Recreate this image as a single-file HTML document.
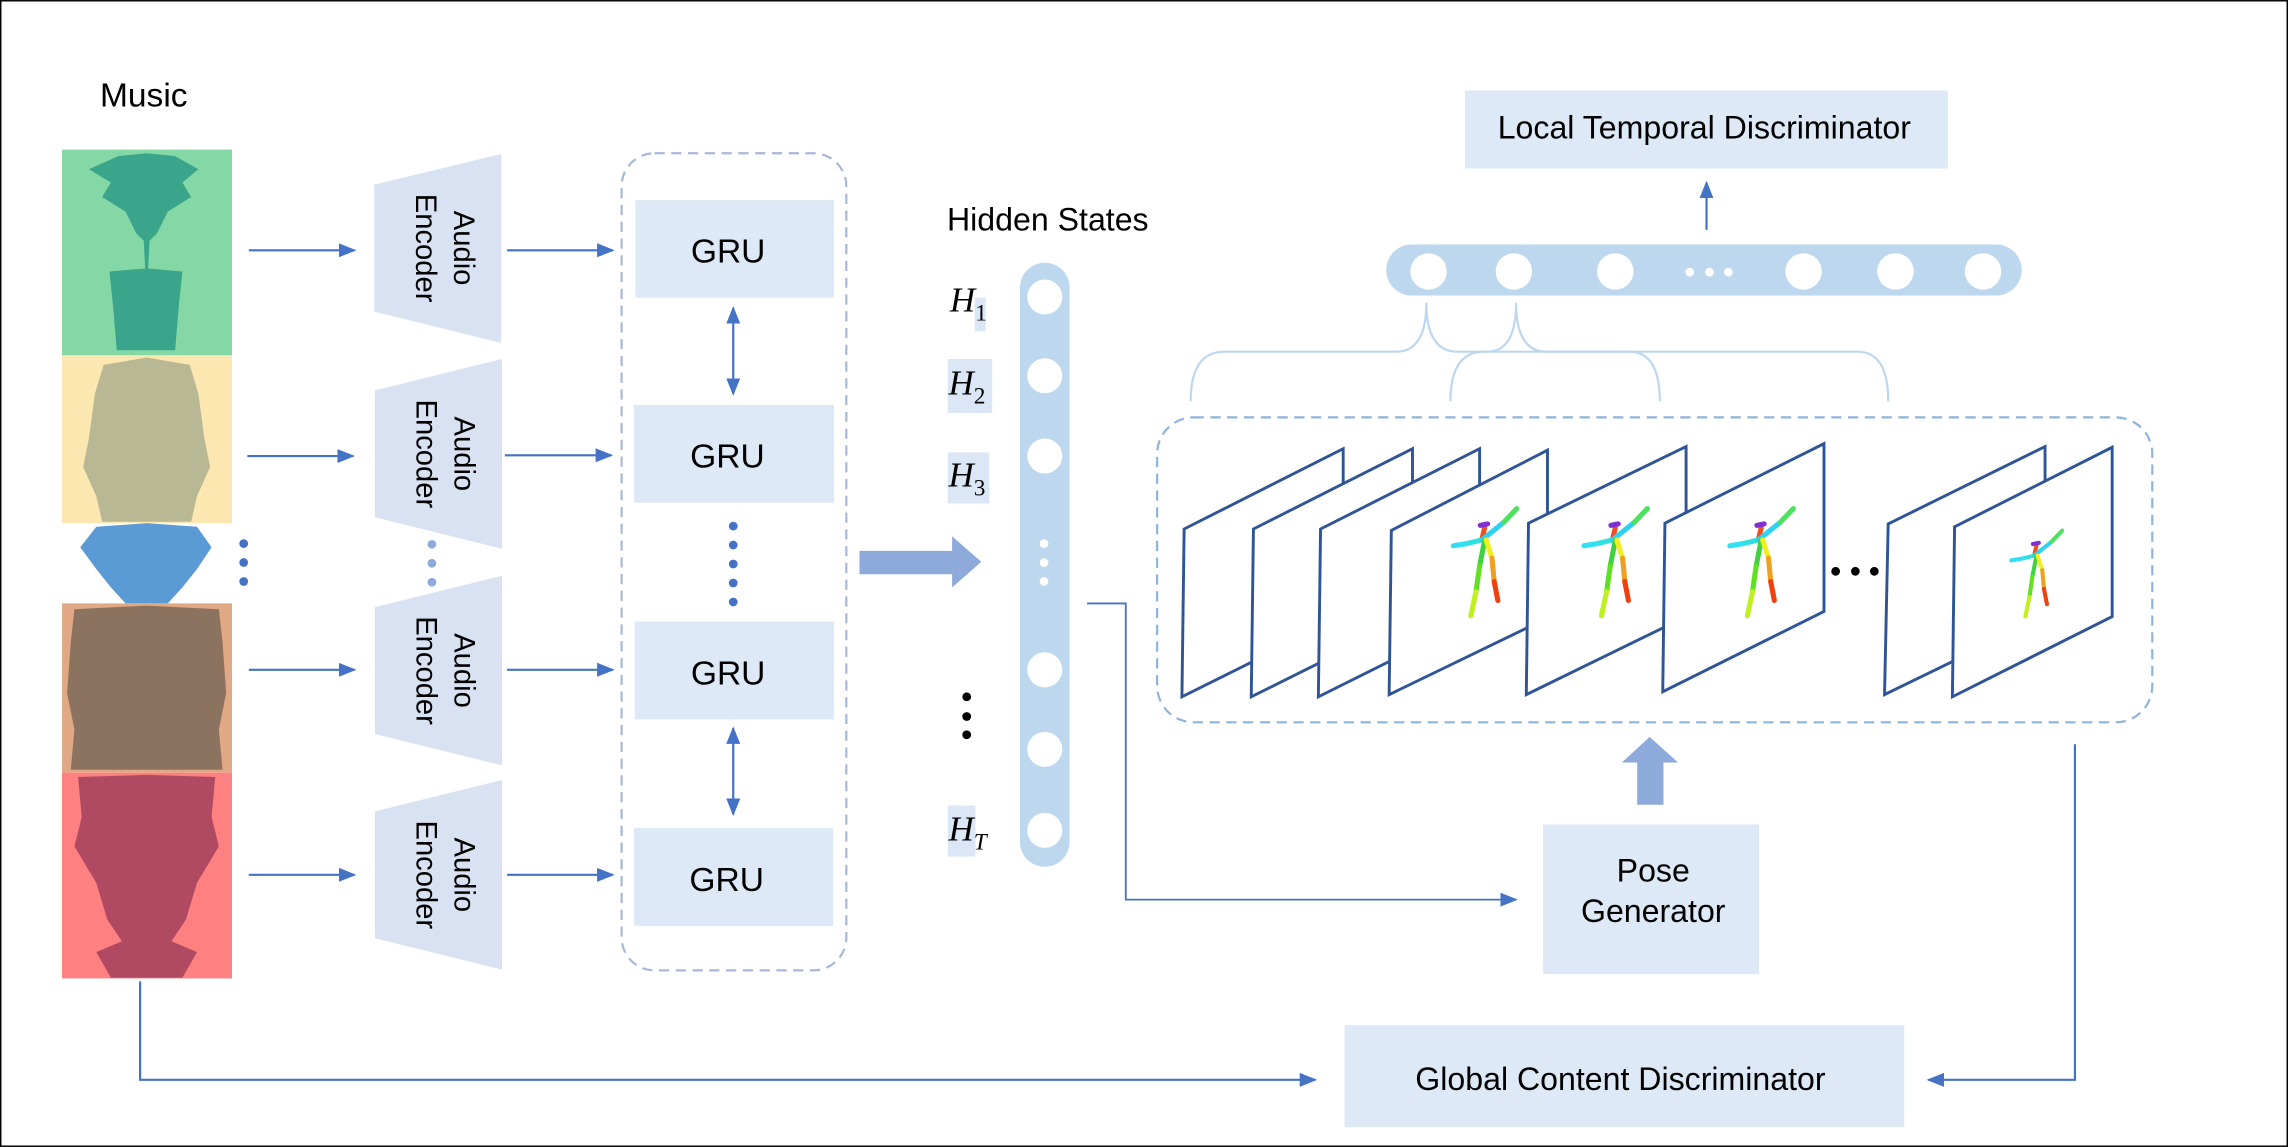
<!DOCTYPE html>
<html><head><meta charset="utf-8"><style>
html,body{margin:0;padding:0;background:#fff;}
svg{display:block;}
text{font-family:"Liberation Sans","DejaVu Sans",sans-serif;}
text.m, text.m tspan{font-family:"Liberation Serif","DejaVu Serif",serif;}
</style></head><body>
<svg width="2288" height="1147" viewBox="0 0 3136 1572" xmlns="http://www.w3.org/2000/svg">
<defs>
<marker id="ah2" viewBox="0 0 10 10" refX="9" refY="5" markerWidth="24" markerHeight="24" orient="auto-start-reverse" markerUnits="userSpaceOnUse">
<path d="M0,1 L10,5 L0,9 z" fill="#4472c4"/></marker>
<g id="fig">
<g stroke-width="7" stroke-linecap="round" fill="none">
<line x1="0" y1="0" x2="4" y2="-17" stroke="#f05020"/>
<line x1="-2" y1="-20" x2="8" y2="-22" stroke="#8030d0"/>
<line x1="0" y1="0" x2="-21" y2="5" stroke="#30e0e0"/>
<line x1="-21" y1="5" x2="-39" y2="8" stroke="#30e0f0"/>
<line x1="0" y1="0" x2="30" y2="-24" stroke="#30d0f0"/>
<line x1="30" y1="-24" x2="48" y2="-43" stroke="#50e060"/>
<line x1="4" y1="0" x2="-3" y2="36" stroke="#40d040"/>
<line x1="-3" y1="36" x2="-8" y2="71" stroke="#60e020"/>
<line x1="-8" y1="71" x2="-15" y2="104" stroke="#c0f020"/>
<line x1="6" y1="0" x2="14" y2="25" stroke="#f0f020"/>
<line x1="14" y1="25" x2="17" y2="57" stroke="#f0a020"/>
<line x1="17" y1="57" x2="22" y2="83" stroke="#f04010"/>
</g></g>
</defs>
<rect x="1" y="1" width="3134" height="1570" fill="#fff" stroke="#000" stroke-width="2"/>

<text x="137" y="146" font-size="46">Music</text>
<rect x="85" y="205" width="233" height="282" fill="#84d8a6"/>
<polygon points="201,210 240,214 272,232 250,250 262,270 230,290 215,320 205,330 203,368 250,372 245,420 240,480 160,480 155,420 150,372 199,368 197,330 187,320 172,290 140,270 152,250 122,232 162,214" fill="#3aa58a"/>
<rect x="85" y="487" width="233" height="230" fill="#fde7b0"/>
<polygon points="201,490 260,500 272,540 280,600 288,640 270,680 262,715 140,715 132,680 114,640 122,600 130,540 142,500" fill="#b8b894"/>
<polygon points="201,717 270,722 290,750 270,780 250,805 230,827 172,827 152,805 132,780 110,750 132,722" fill="#5b9bd5"/>
<rect x="85" y="827" width="233" height="232" fill="#e0a884"/>
<polygon points="201,830 300,835 305,880 310,950 300,1000 305,1055 97,1055 102,1000 92,950 97,880 102,835" fill="#8b7360"/>
<rect x="85" y="1059" width="233" height="282" fill="#ff8080"/>
<polygon points="201,1062 295,1065 290,1120 300,1160 270,1210 255,1260 235,1290 270,1305 250,1340 152,1340 132,1305 167,1290 147,1260 132,1210 102,1160 112,1120 107,1065" fill="#b04a62"/>
<circle cx="334" cy="745" r="6" fill="#4472c4"/><circle cx="334" cy="771" r="6" fill="#4472c4"/><circle cx="334" cy="797" r="6" fill="#4472c4"/>

<g stroke="#4472c4" stroke-width="3" fill="none" marker-end="url(#ah2)">
<line x1="341" y1="343" x2="486" y2="343"/>
<line x1="339" y1="625" x2="484" y2="625"/>
<line x1="341" y1="918" x2="486" y2="918"/>
<line x1="341" y1="1199" x2="486" y2="1199"/>
<line x1="695" y1="343" x2="840" y2="343"/>
<line x1="692" y1="624" x2="838" y2="624"/>
<line x1="695" y1="918" x2="840" y2="918"/>
<line x1="695" y1="1199" x2="840" y2="1199"/>
</g>
<g fill="#d9e2f3">
<polygon points="513,253 687,211 687,470 513,427"/>
<polygon points="514,535 688,492 688,752 514,709"/>
<polygon points="514,832 688,789 688,1049 514,1006"/>
<polygon points="514,1112 688,1069 688,1329 514,1286"/>
</g>
<g font-size="40" fill="#000" text-anchor="middle">
<text transform="translate(600,340) rotate(90)"><tspan x="0" y="-22">Audio</tspan><tspan x="0" y="30">Encoder</tspan></text>
<text transform="translate(601,622) rotate(90)"><tspan x="0" y="-22">Audio</tspan><tspan x="0" y="30">Encoder</tspan></text>
<text transform="translate(601,919) rotate(90)"><tspan x="0" y="-22">Audio</tspan><tspan x="0" y="30">Encoder</tspan></text>
<text transform="translate(601,1199) rotate(90)"><tspan x="0" y="-22">Audio</tspan><tspan x="0" y="30">Encoder</tspan></text>
</g>
<circle cx="592" cy="746" r="6" fill="#8eaadb"/><circle cx="592" cy="772" r="6" fill="#8eaadb"/><circle cx="592" cy="798" r="6" fill="#8eaadb"/>

<rect x="852" y="210" width="308" height="1120" rx="45" fill="none" stroke="#a8b8d8" stroke-width="3" stroke-dasharray="14,9"/>
<g fill="#dde9f6">
<rect x="871" y="274" width="272" height="134"/>
<rect x="869" y="555" width="274" height="134"/>
<rect x="870" y="852" width="273" height="134"/>
<rect x="869" y="1135" width="273" height="134"/>
</g>
<g font-size="46" text-anchor="middle" fill="#000">
<text x="998" y="360">GRU</text><text x="997" y="641">GRU</text><text x="998" y="938">GRU</text><text x="996" y="1221">GRU</text>
</g>
<g stroke="#4472c4" stroke-width="3" marker-start="url(#ah2)" marker-end="url(#ah2)">
<line x1="1005" y1="422" x2="1005" y2="540"/>
<line x1="1005" y1="998" x2="1005" y2="1116"/>
</g>
<g fill="#4472c4"><circle cx="1005" cy="721" r="6"/><circle cx="1005" cy="747" r="6"/><circle cx="1005" cy="773" r="6"/><circle cx="1005" cy="799" r="6"/><circle cx="1005" cy="825" r="6"/></g>

<polygon points="1178,755 1305,755 1305,735 1345,770 1305,805 1305,787 1178,787" fill="#8eaadb"/>

<text x="1298" y="316" font-size="44">Hidden States</text>
<rect x="1398" y="360" width="68" height="828" rx="34" fill="#bdd7ee"/>
<g fill="#fff">
<circle cx="1432" cy="407" r="24"/><circle cx="1432" cy="515" r="24"/><circle cx="1432" cy="625" r="24"/>
<circle cx="1432" cy="918" r="24"/><circle cx="1432" cy="1027" r="24"/><circle cx="1432" cy="1138" r="24"/>
<circle cx="1431" cy="745" r="6"/><circle cx="1431" cy="771" r="6"/><circle cx="1431" cy="797" r="6"/>
</g>
<g fill="#dbe7f7">
<rect x="1336" y="408" width="15" height="46"/>
<rect x="1299" y="492" width="61" height="74"/>
<rect x="1299" y="620" width="57" height="70"/>
<rect x="1299" y="1104" width="38" height="70"/>
</g>
<g font-size="48" fill="#000">
<text class="m" x="1302" y="427"><tspan font-style="italic">H</tspan><tspan font-size="32" dy="12">1</tspan></text>
<text class="m" x="1300" y="541"><tspan font-style="italic">H</tspan><tspan font-size="32" dy="12">2</tspan></text>
<text class="m" x="1300" y="667"><tspan font-style="italic">H</tspan><tspan font-size="32" dy="12">3</tspan></text>
<text class="m" x="1300" y="1152"><tspan font-style="italic">H</tspan><tspan font-size="32" font-style="italic" dy="12">T</tspan></text>
</g>
<g fill="#000"><circle cx="1325" cy="955" r="6"/><circle cx="1325" cy="982" r="6"/><circle cx="1325" cy="1007" r="6"/></g>

<polyline points="1490,827 1543,827 1543,1233 2078,1233" fill="none" stroke="#4472c4" stroke-width="2.5" marker-end="url(#ah2)"/>
<polyline points="192,1345 192,1480 1803,1480" fill="none" stroke="#4472c4" stroke-width="3" marker-end="url(#ah2)"/>
<polyline points="2844,1020 2844,1480 2643,1480" fill="none" stroke="#4472c4" stroke-width="3" marker-end="url(#ah2)"/>

<g transform="translate(1568,0)">
<rect x="440" y="124" width="662" height="107" fill="#dde9f6"/>
<text x="768" y="190" font-size="44" text-anchor="middle">Local Temporal Discriminator</text>
<line x1="771" y1="315" x2="771" y2="250" stroke="#4472c4" stroke-width="3" marker-end="url(#ah2)"/>
<rect x="332" y="335" width="871" height="70" rx="35" fill="#bdd7ee"/>
<g fill="#fff">
<circle cx="390" cy="372" r="25"/><circle cx="507" cy="372" r="25"/><circle cx="646" cy="372" r="25"/>
<circle cx="904" cy="372" r="25"/><circle cx="1030" cy="372" r="25"/><circle cx="1150" cy="372" r="25"/>
<circle cx="748" cy="373" r="6"/><circle cx="775" cy="373" r="6"/><circle cx="801" cy="373" r="6"/>
</g>
<g fill="none" stroke="#bdd7ee" stroke-width="3">
<path d="M64,550 Q64,482 110,482 L345,482 Q387,482 387,415 Q387,482 430,482 L665,482 Q707,482 707,550"/>
<path d="M420,550 Q420,482 466,482 L470,482 Q510,482 510,415 Q510,482 552,482 L978,482 Q1020,482 1020,550"/>
</g>
<rect x="18" y="572" width="1364" height="418" rx="50" fill="none" stroke="#8eb4dc" stroke-width="3" stroke-dasharray="14,9"/>
<g fill="#fff" stroke="#2f5597" stroke-width="4">
<polygon points="55,725 273,615 273,845 52,955"/>
<polygon points="150,725 368,615 368,845 147,955"/>
<polygon points="242,725 460,615 460,845 239,955"/>
<polygon points="339,727 553,617 553,847 336,952"/>
<use href="#fig" x="463" y="740" stroke="none"/>
<polygon points="527,717 743,612 743,845 524,952"/>
<use href="#fig" x="642" y="740" stroke="none"/>
<polygon points="714,717 932,608 932,838 711,948"/>
<use href="#fig" x="842" y="740" stroke="none"/>
<polygon points="1020,718 1235,612 1235,845 1015,952"/>
<polygon points="1111,722 1327,613 1327,845 1108,955"/>
<use href="#fig" x="1220" y="762" stroke="none" transform="translate(244,152) scale(0.8)"/>
</g>
<g fill="#000"><circle cx="948" cy="783" r="6"/><circle cx="975" cy="783" r="6"/><circle cx="1001" cy="783" r="6"/></g>
<polygon points="676,1103 676,1045 655,1045 693,1010 732,1045 712,1045 712,1103" fill="#8eaadb"/>
<rect x="547" y="1130" width="296" height="205" fill="#dde9f6"/>
<text x="698" y="1208" font-size="44" text-anchor="middle">Pose</text>
<text x="698" y="1264" font-size="44" text-anchor="middle">Generator</text>
<rect x="275" y="1405" width="767" height="140" fill="#dde9f6"/>
<text x="653" y="1494" font-size="44" text-anchor="middle">Global Content Discriminator</text>
</g>
</svg>
</body></html>
